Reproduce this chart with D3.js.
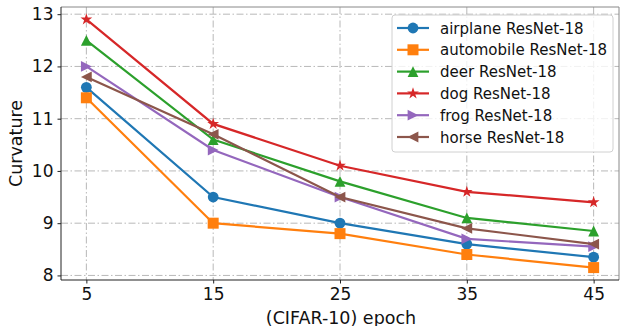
<!DOCTYPE html>
<html>
<head>
<meta charset="utf-8">
<script src="https://cdn.jsdelivr.net/npm/d3@7"></script>
<style>
  body { margin: 0; background: #fff; }
  text { font-family: "DejaVu Sans", sans-serif; fill: #111; }
</style>
</head>
<body>
<div class="canva"></div>
<script>
const width = 621
const height = 326

// data
const epochs = [5, 15, 25, 35, 45]
const airplane = [11.6, 9.5, 9.0, 8.6, 8.35]
const automobile = [11.4, 9.0, 8.8, 8.4, 8.15]
const deer = [12.5, 10.6, 9.8, 9.1, 8.85]
const dog = [12.9, 10.9, 10.1, 9.6, 9.4]
const frog = [12.0, 10.4, 9.5, 8.7, 8.55]
const horse = [11.8, 10.7, 9.5, 8.9, 8.6]
const seriesNames = ["airplane ResNet-18", "automobile ResNet-18", "deer ResNet-18",
  "dog ResNet-18", "frog ResNet-18", "horse ResNet-18"]
const yTicks = [8, 9, 10, 11, 12, 13]

const colors = ["#1f77b4", "#ff7f0e", "#2ca02c", "#d62728", "#9467bd", "#8c564b"]
const markers = ["circle", "square", "triangle-up", "star", "triangle-right", "triangle-left"]
const allSeries = [airplane, automobile, deer, dog, frog, horse]

const margin = { left: 61, right: 2, top: 7, bottom: 46 }

const svg = d3.select(".canva").append("svg").attr("width", width).attr("height", height)

const x = d3.scaleLinear().domain([3, 47]).range([margin.left, width - margin.right])
const y = d3.scaleLinear().domain([7.9125, 13.1375]).range([height - margin.bottom, margin.top])

// grid
const grid = svg.append("g")
epochs.forEach(e => {
  grid.append("line").attr("x1", x(e)).attr("x2", x(e))
    .attr("y1", margin.top).attr("y2", height - margin.bottom)
})
yTicks.forEach(t => {
  grid.append("line").attr("x1", margin.left).attr("x2", width - margin.right)
    .attr("y1", y(t)).attr("y2", y(t))
})
grid.selectAll("line").attr("stroke", "#b8b8b8").attr("stroke-width", 1)
  .attr("stroke-dasharray", "7,2.5,1.5,2.5")

// axes
const xAxis = svg.append("g").attr("transform", `translate(0,${height - margin.bottom})`)
  .call(d3.axisBottom(x).tickValues(epochs).tickFormat(d3.format("d")).tickSizeOuter(0).tickSize(3.5).tickPadding(4))
const yAxis = svg.append("g").attr("transform", `translate(${margin.left},0)`)
  .call(d3.axisLeft(y).tickValues(yTicks).tickFormat(d3.format("d")).tickSizeOuter(0).tickSize(3.5).tickPadding(4))
;[xAxis, yAxis].forEach(a => {
  a.attr("font-family", "DejaVu Sans").attr("font-size", 17)
  a.select(".domain").remove()
  a.selectAll("text").attr("fill", "#111")
  a.selectAll("line").attr("stroke", "#222")
})

// frame
const x0 = margin.left, x1 = width - margin.right, y0 = margin.top, y1 = height - margin.bottom
svg.append("path").attr("d", `M${x0},${y0}H${x1}V${y1}`).attr("fill", "none")
  .attr("stroke", "#888").attr("stroke-width", 1)
svg.append("path").attr("d", `M${x0},${y0}V${y1}H${x1}`).attr("fill", "none")
  .attr("stroke", "#222").attr("stroke-width", 1)

svg.append("text").attr("x", (x0 + x1) / 2 + 1).attr("y", 324)
  .attr("text-anchor", "middle").style("font-size", "17.5px").text("(CIFAR-10) epoch")
svg.append("text").attr("transform", `translate(22,${(y0 + y1) / 2}) rotate(-90)`)
  .attr("text-anchor", "middle").style("font-size", "17.5px").text("Curvature")

function markerPath(type) {
  if (type === "circle") return d3.symbol(d3.symbolCircle, Math.PI * 5.4 * 5.4)()
  if (type === "square") return d3.symbol(d3.symbolSquare, 11 * 11)()
  if (type === "star") return d3.symbol(d3.symbolStar, 6.2 * 6.2 / 0.8908)()
  const s = 5.4
  if (type === "triangle-up") return `M0,${-s}L${s},${s}L${-s},${s}Z`
  if (type === "triangle-right") return `M${s},0L${-s},${s}L${-s},${-s}Z`
  if (type === "triangle-left") return `M${-s},0L${s},${s}L${s},${-s}Z`
}

const line = d3.line().x((d, i) => x(epochs[i])).y(d => y(d))
const plot = svg.append("g")
allSeries.forEach((vals, k) => {
  plot.append("path").attr("d", line(vals)).attr("fill", "none")
    .attr("stroke", colors[k]).attr("stroke-width", 2.2)
  plot.selectAll(null).data(vals).enter().append("path")
    .attr("transform", (d, i) => `translate(${x(epochs[i])},${y(d)})`)
    .attr("d", markerPath(markers[k]))
    .attr("fill", colors[k])
})

// legend
const lg = svg.append("g").attr("transform", "translate(392,15)")
lg.append("rect").attr("width", 221).attr("height", 137).attr("rx", 3)
  .attr("fill", "#fff").attr("fill-opacity", 0.8).attr("stroke", "#d0d0d0")
seriesNames.forEach((name, k) => {
  const cy = 13 + k * 21.8
  lg.append("line").attr("x1", 5).attr("x2", 37).attr("y1", cy).attr("y2", cy)
    .attr("stroke", colors[k]).attr("stroke-width", 2.2)
  lg.append("path").attr("transform", `translate(21,${cy})`)
    .attr("d", markerPath(markers[k])).attr("fill", colors[k])
  lg.append("text").attr("x", 48).attr("y", cy + 5.5).style("font-size", "15px").text(name)
})
</script>
</body>
</html>
